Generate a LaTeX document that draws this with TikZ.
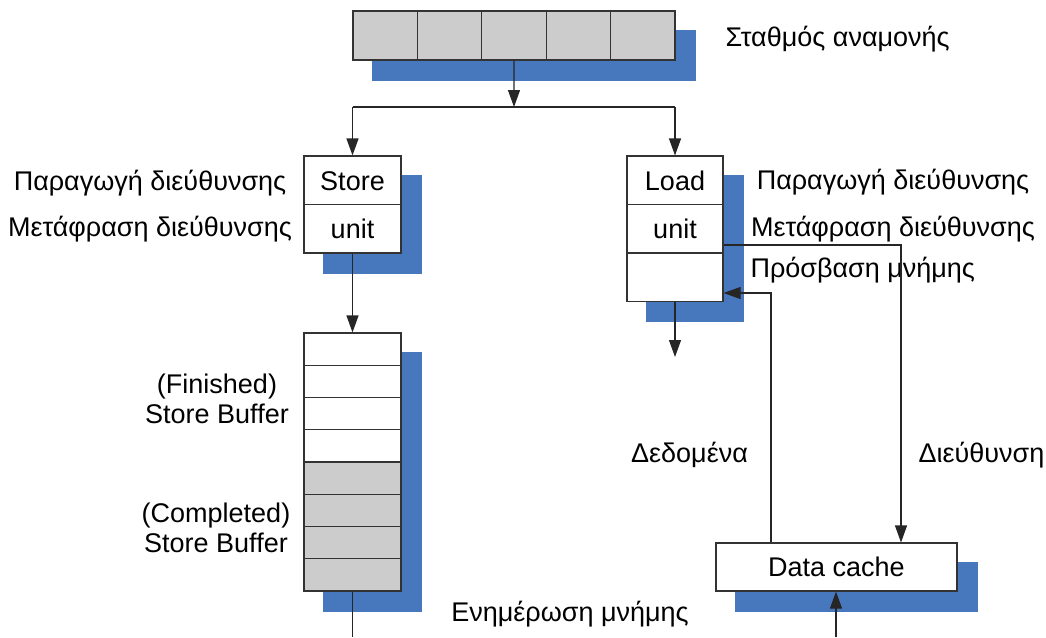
\documentclass[tikz,border=0pt]{standalone}
\usepackage{fontspec}
\setmainfont{Liberation Sans}
\usetikzlibrary{arrows.meta,backgrounds}
\definecolor{cellgrey}{RGB}{204,204,204}
\definecolor{shadowblue}{RGB}{71,120,190}

\begin{document}
\begin{tikzpicture}[x=1pt,y=-1pt,line width=1.1pt,
		every node/.style={font=\fontsize{27}{30}\selectfont},
		box/.style={draw=black!80,fill=white,inner sep=0pt,minimum width=97pt,minimum height=48.5pt,text height=19.5pt,text depth=0pt},
		cell/.style={box,fill=cellgrey,minimum width=64.4pt,minimum height=49pt},
		slot/.style={box,minimum height=32.25pt},
		lbl/.style={inner sep=0pt,anchor=base},
		shade/.style={fill=shadowblue},
		arr/.style={draw=black!85,-{Triangle[length=17pt,width=12pt]}},
		wire/.style={draw=black!85}]
	\useasboundingbox (0,0) rectangle (1046,637);
	
	% reservation station
	\foreach \i in {1,...,5}
		\node[cell] (q\i) at ({353+64.4*(\i-0.5)},35.5) {};
	\node[lbl,anchor=base west] (qlbl) at (725,46) {Σταθμός αναμονής};
	
	% store and load units
	\node[box] (st1) at (352.5,180.25) {Store};
	\node[box] (st2) at (352.5,228.75) {unit};
	\node[box,minimum width=96pt] (ld1) at (675,180.25) {Load};
	\node[box,minimum width=96pt] (ld2) at (675,228.75) {unit};
	\node[box,minimum width=96pt] (ld3) at (675,277.25) {};
	
	\node[lbl] (genL) at (150,190) {Παραγωγή διεύθυνσης};
	\node[lbl] (trL) at (150,236) {Μετάφραση διεύθυνσης};
	\node[lbl] (genR) at (893,189) {Παραγωγή διεύθυνσης};
	\node[lbl] (trR) at (893,236) {Μετάφραση διεύθυνσης};
	\node[lbl,anchor=base west] (memR) at (750,277) {Πρόσβαση μνήμης};
	
	% store buffer
	\foreach \i in {1,...,8}
		\node[slot] (sb\i) at (352.5,{333+32.25*(\i-0.5)}) {};
	\foreach \i in {5,...,8}
		\node[slot,fill=cellgrey] at (sb\i) {};
	\node[align=center,inner sep=0pt] (fin) at (217,399) {(Finished)\\Store Buffer};
	\node[align=center,inner sep=0pt] (comp) at (216,528) {(Completed)\\Store Buffer};
	
	% data cache
	\node[box,minimum width=241pt,minimum height=48pt] (dc) at (836.5,567) {Data cache};
	\node[lbl] (dlbl) at (689.5,462) {Δεδομένα};
	\node[lbl] (albl) at (981.5,462) {Διεύθυνση};
	\node[lbl] (ulbl) at (570,621) {Ενημέρωση μνήμης};
	
	\begin{scope}[on background layer]
		\fill[shade] ([shift={(20,20)}]q1.north west) rectangle ([shift={(20,20)}]q5.south east);
		\fill[shade] ([shift={(20,20)}]st1.north west) rectangle ([shift={(20,20)}]st2.south east);
		\fill[shade] ([shift={(20,20)}]ld1.north west) rectangle ([shift={(20,20)}]ld3.south east);
		\fill[shade] ([shift={(20,20)}]sb1.north west) rectangle ([shift={(20,20)}]sb8.south east);
		\fill[shade] ([shift={(20,20)}]dc.north west) rectangle ([shift={(20,20)}]dc.south east);
	\end{scope}
	
	\coordinate (split) at (514,107);
	\coordinate (sl) at (st1.north |- split);
	\coordinate (sr) at (ld1.north |- split);
	\coordinate (addr) at (901,245);
	\coordinate (data) at (771,293);
	\coordinate (ldout) at (675,357);
	\coordinate (sbout) at (352.5,637);
	\coordinate (dcin) at (836,637);
	
	\draw[arr] (q3.south) -- (split);
	\draw[wire] (sl) -- (sr);
	\draw[arr] (sl) -- (st1.north);
	\draw[arr] (sr) -- (ld1.north);
	\draw[arr] (st2.south) -- (sb1.north);
	\draw[wire] (sb8.south) -- (sbout);
	\draw[arr] (ld3.south) -- (ldout);
	\draw[arr] (ld2.east |- addr) -- (addr) -- (addr |- dc.north);
	\draw[arr] (data |- dc.north) -- (data) -- (ld3.east |- data);
	\draw[arr] (dcin) -- (dcin |- dc.south);
\end{tikzpicture}
\end{document}
